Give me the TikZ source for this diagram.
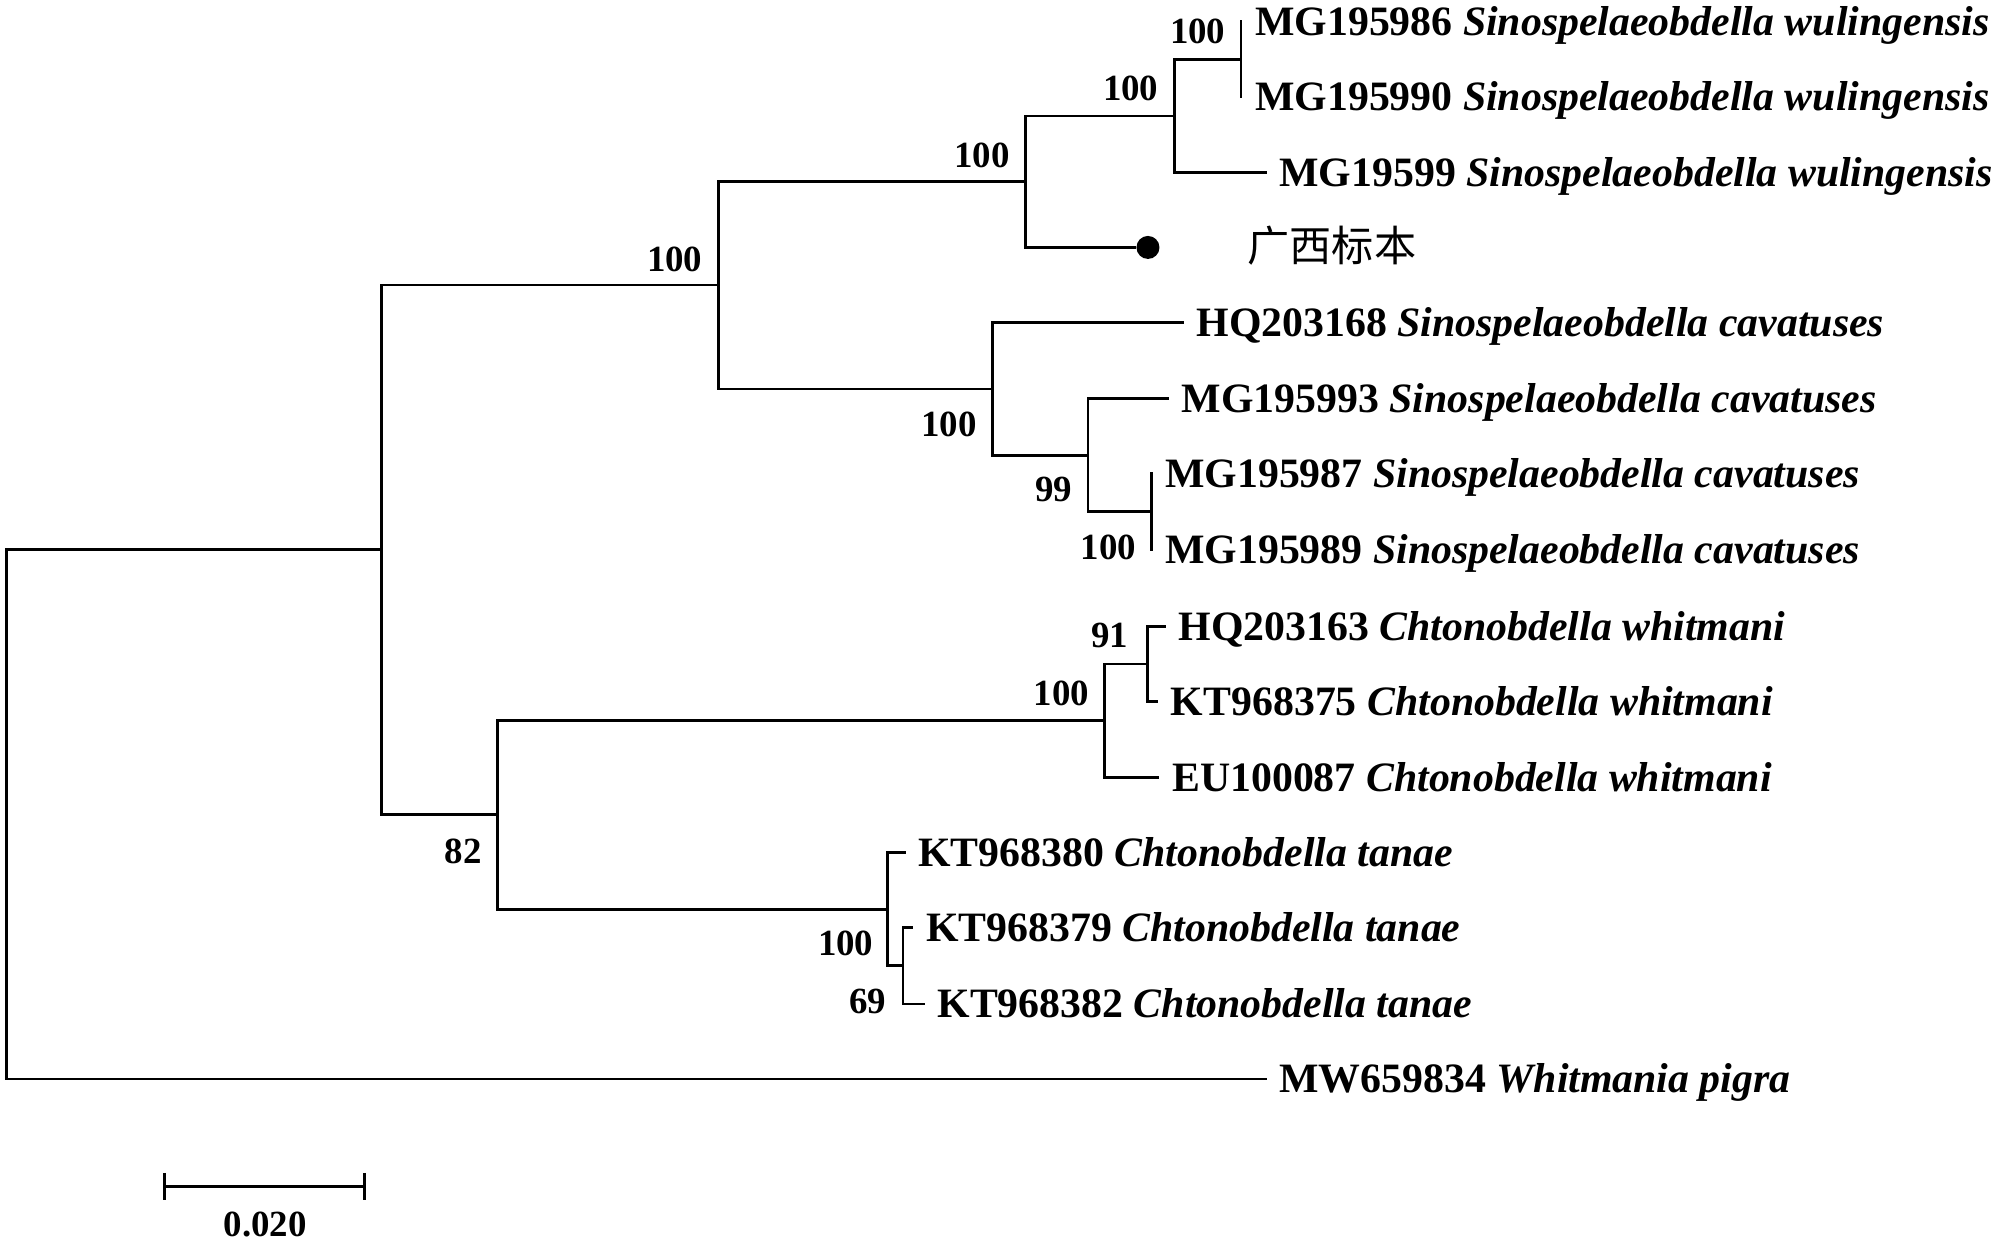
\documentclass[tikz,border=0pt]{standalone}
\usepackage{fontspec}
\setmainfont{Liberation Serif}
\newfontfamily\cjkfont{Noto Sans CJK SC}
\usetikzlibrary{positioning,calc}

\begin{document}
\begin{tikzpicture}[x=0.012755cm, y=-0.012755cm, line join=miter,
                    every node/.style={outer sep=0pt}]

  \tikzset{
    edge/.style={line width=0.75pt, draw=black},
    leaf/.style={anchor=west, inner xsep=0.128cm, inner ysep=0pt, text height=7.9pt, text depth=0pt,
                 font=\fontsize{11.9}{14}\selectfont\bfseries},
    boot/.style={inner sep=0pt, font=\fontsize{10.5}{12}\selectfont\bfseries},
    tipdot/.style={circle, fill=black, minimum size=0.23cm, inner sep=0pt}
  }

  \path[use as bounding box] (0,0) rectangle (1568,977);

  % Inner nodes of the tree
  \foreach \n/\px/\py in {root/5/638.5, n1/299/431, n2/563.5/223.5, n3/804/142.5, n4/921/91,
                          n5/973/46.5, n6/778/305, n7/853/357, n8/903/401, n9/390/638.5,
                          n10/866/565, n11/899.5/520.5, n12/696/713, n13/708/757}
    \coordinate (\n) at (\px,\py);

  % Tips
  \node[leaf] (mg986) at (974,17)    {MG195986 \textit{Sinospelaeobdella wulingensis}};
  \node[leaf] (mg990) at (974,76)    {MG195990 \textit{Sinospelaeobdella wulingensis}};
  \node[leaf] (mg599) at (993,135)   {MG19599 \textit{Sinospelaeobdella wulingensis}};
  \node[tipdot] (gxdot) at (900,194) {};
  \node[leaf, font=\fontsize{12}{14}\cjkfont] (gx) at (968,194) {广西标本};
  \node[leaf] (hq168) at (928,253)   {HQ203168 \textit{Sinospelaeobdella cavatuses}};
  \node[leaf] (mg993) at (916.5,312.5) {MG195993 \textit{Sinospelaeobdella cavatuses}};
  \node[leaf] (mg987) at (903.5,371) {MG195987 \textit{Sinospelaeobdella cavatuses}};
  \node[leaf] (mg989) at (903.5,431) {MG195989 \textit{Sinospelaeobdella cavatuses}};
  \node[leaf] (hq163) at (914,491)   {HQ203163 \textit{Chtonobdella whitmani}};
  \node[leaf] (kt375) at (908,550)   {KT968375 \textit{Chtonobdella whitmani}};
  \node[leaf] (eu087) at (909,609.5) {EU100087 \textit{Chtonobdella whitmani}};
  \node[leaf] (kt380) at (710,668.5) {KT968380 \textit{Chtonobdella tanae}};
  \node[leaf] (kt379) at (716,727)   {KT968379 \textit{Chtonobdella tanae}};
  \node[leaf] (kt382) at (725,787)   {KT968382 \textit{Chtonobdella tanae}};
  \node[leaf] (mw834) at (993,846)   {MW659834 \textit{Whitmania pigra}};

  % Branches
  \foreach \a/\b in {root/n1, root/mw834.west, n1/n2, n1/n9, n2/n3, n2/n6,
                     n3/n4, n3/gxdot.west, n4/n5, n4/mg599.west, n5/mg986.west, n5/mg990.west,
                     n6/hq168.west, n6/n7, n7/mg993.west, n7/n8, n8/mg987.west, n8/mg989.west,
                     n9/n10, n9/n12, n10/n11, n10/eu087.west, n11/hq163.west, n11/kt375.west,
                     n12/kt380.west, n12/n13, n13/kt379.west, n13/kt382.west}
    \draw[edge] (\a) |- (\b);

  % Bootstrap values
  \foreach \t/\px/\py [count=\i] in {100/939/25, 100/886.5/69, 100/770/122, 100/529/203,
                                     100/744/333, 99/826/384, 100/869/429.5, 82/363/667.5,
                                     100/832/544, 91/870/498.5, 100/663/740, 69/680.5/785}
    \node[boot] (bs\i) at (\px,\py) {\t};

  % Scale bar
  \coordinate (sbl) at (129,930);
  \coordinate (sbr) at (286,930);
  \draw[edge] (sbl) -- (sbr);
  \draw[edge] ($(sbl)+(0,-10.5)$) -- ($(sbl)+(0,10.5)$);
  \draw[edge] ($(sbr)+(0,-10.5)$) -- ($(sbr)+(0,10.5)$);
  \node[boot] (sblabel) at (208,960) {0.020};
\end{tikzpicture}
\end{document}
